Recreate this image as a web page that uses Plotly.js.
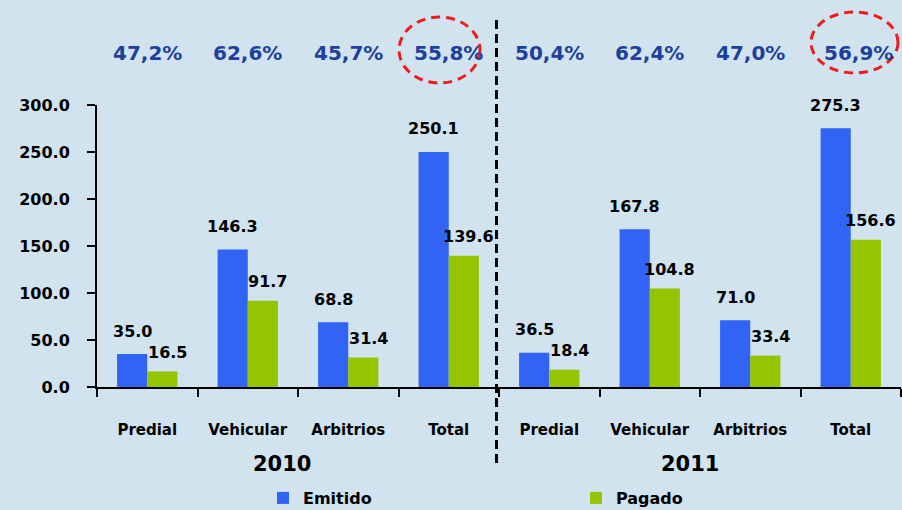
<!DOCTYPE html>
<html>
<head>
<meta charset="utf-8">
<script src="https://cdn.plot.ly/plotly-3.0.1.min.js"></script>
<style>html,body{margin:0;padding:0;background:#d0e3ef;}#chart{width:902px;height:510px;}</style>
</head>
<body>
<div id="chart"></div>
<script>
// ---- data ----
const categories = ['Predial','Vehicular','Arbitrios','Total','Predial','Vehicular','Arbitrios','Total'];
const emitido = [35.0, 146.3, 68.8, 250.1, 36.5, 167.8, 71.0, 275.3];
const pagado  = [16.5, 91.7, 31.4, 139.6, 18.4, 104.8, 33.4, 156.6];
const ratios  = ['47,2%','62,6%','45,7%','55,8%','50,4%','62,4%','47,0%','56,9%'];
const years   = ['2010','2011'];
const yTicks  = [0, 50, 100, 150, 200, 250, 300];

// ---- layout helpers (pixel geometry of the plot area) ----
const W = 902, H = 510;
const M = {l: 97, r: 1, t: 105, b: 123, autoexpand: false};
const plotW = W - M.l - M.r, plotH = H - M.t - M.b;
const catW = plotW / categories.length;
const px2x = px => (px - M.l) / catW - 0.5;
const px2y = py => (H - M.b - py) / plotH;

const idx = categories.map((_, i) => i);
const FONT = 'DejaVu Sans, Verdana, sans-serif';

const traces = [
  {type: 'bar', name: 'Emitido', x: idx, y: emitido,
   marker: {color: '#3163f4'}, hoverinfo: 'y'},
  {type: 'bar', name: 'Pagado', x: idx, y: pagado,
   marker: {color: '#95c500'}, hoverinfo: 'y'}
];

const annotations = [];
idx.forEach(i => {
  annotations.push({x: i, y: emitido[i], xref: 'x', yref: 'y', text: emitido[i].toFixed(1),
    showarrow: false, xshift: -15, yshift: 23, yanchor: 'middle',
    font: {family: FONT, size: 16, weight: 'bold', color: '#000'}});
  annotations.push({x: i, y: pagado[i], xref: 'x', yref: 'y', text: pagado[i].toFixed(1),
    showarrow: false, xshift: 20, yshift: 19, yanchor: 'middle',
    font: {family: FONT, size: 16, weight: 'bold', color: '#000'}});
  annotations.push({x: i, y: px2y(53), xref: 'x', yref: 'paper', text: ratios[i],
    showarrow: false, yanchor: 'middle', xanchor: 'center', xshift: i === 7 ? 8 : 0,
    font: {family: FONT, size: 20, weight: 'bold', color: '#1d3f9e'}});
});
const yearPx = [282, 690];
years.forEach((yr, k) => {
  annotations.push({x: px2x(yearPx[k]), y: px2y(464), xref: 'x', yref: 'paper', text: yr,
    showarrow: false, yanchor: 'middle', xanchor: 'center',
    font: {family: FONT, size: 21, weight: 'bold', color: '#000'}});
});

const shapes = [
  {type: 'line', xref: 'x', yref: 'paper', x0: px2x(496.5), x1: px2x(496.5), y0: px2y(463), y1: px2y(17),
   line: {color: '#000', width: 3, dash: '9px,5px'}},
  {type: 'circle', xref: 'x', yref: 'paper', x0: px2x(399), x1: px2x(480), y0: px2y(83), y1: px2y(17),
   line: {color: '#ee1c1c', width: 3, dash: '9px,6px'}},
  {type: 'circle', xref: 'x', yref: 'paper', x0: px2x(811), x1: px2x(898), y0: px2y(73), y1: px2y(12),
   line: {color: '#ee1c1c', width: 3, dash: '9px,6px'}}
];

const layout = {
  width: W, height: H,
  margin: M,
  paper_bgcolor: '#d0e3ef', plot_bgcolor: '#d0e3ef',
  barmode: 'group', bargap: 0.4, bargroupgap: 0,
  font: {family: FONT, color: '#000'},
  xaxis: {
    range: [-0.5, categories.length - 0.5],
    tickmode: 'array', tickvals: idx, ticktext: categories, ticks: '',
    ticklabelstandoff: 28,
    tickfont: {family: FONT, size: 15, weight: 'bold', color: '#000'},
    showline: true, linecolor: '#000', linewidth: 2, showgrid: false, zeroline: false,
    minor: {tickmode: 'array', tickvals: idx.concat([categories.length]).map(v => v - 0.5),
            ticks: 'outside', ticklen: 8, tickwidth: 2, tickcolor: '#000', showgrid: false},
    automargin: false, fixedrange: true
  },
  yaxis: {
    range: [0, 300], tickmode: 'array', tickvals: yTicks, ticktext: yTicks.map(v => v.toFixed(1)),
    ticks: 'outside', ticklen: 8, tickwidth: 2, tickcolor: '#000', ticklabelstandoff: 14,
    tickfont: {family: FONT, size: 16, weight: 'bold', color: '#000'},
    showline: true, linecolor: '#000', linewidth: 2, showgrid: false, zeroline: false,
    automargin: false, fixedrange: true
  },
  showlegend: true,
  legend: {orientation: 'h', x: (263 - M.l) / plotW, xanchor: 'left', y: px2y(481), yanchor: 'top',
           entrywidth: 268, bgcolor: 'rgba(0,0,0,0)', tracegroupgap: 0,
           font: {family: FONT, size: 16, weight: 'bold', color: '#000'}},
  annotations: annotations,
  shapes: shapes
};

Plotly.newPlot('chart', traces, layout, {displayModeBar: false, staticPlot: true});
</script>
</body>
</html>
